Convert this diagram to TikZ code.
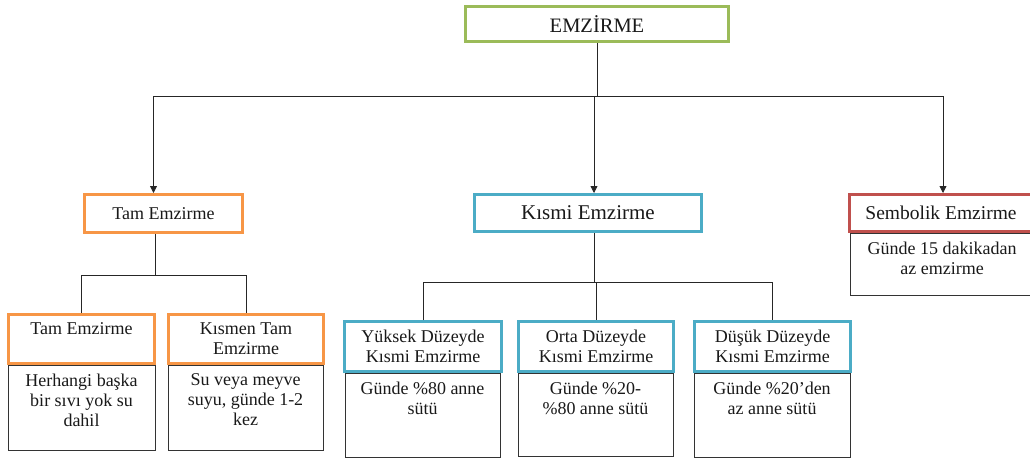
\documentclass[tikz,border=0pt]{standalone}
\usepackage{fontspec}
\setmainfont{Liberation Serif}
\usetikzlibrary{arrows.meta}

\definecolor{emgreen}{RGB}{155,187,89}
\definecolor{emorange}{RGB}{247,150,70}
\definecolor{emblue}{RGB}{75,172,198}
\definecolor{emred}{RGB}{192,80,77}

\begin{document}
\begin{tikzpicture}[x=1pt,y=-1pt,every node/.style={font=\fontsize{18}{20}\selectfont,text=black!90},
  cbox/.style={draw,line width=3pt,fill=white,align=center,inner sep=0pt},
  dbox/.style={draw=black!80,line width=0.8pt,inner sep=0pt},
  dtext/.style={anchor=north,align=center,inner sep=0pt,yshift=-9pt},
  big/.style={font=\fontsize{#1}{22}\selectfont},
  con/.style={draw=black!85,line width=0.8pt},
  arr/.style={con,-{Triangle[length=7pt,width=7pt]}}]
\useasboundingbox (0,0) rectangle (1030,461);
% description boxes (behind)
\node[dbox,minimum width=147pt,minimum height=85pt,label={[dtext]north:{Herhangi başka\\bir sıvı yok su\\dahil}}](tam1d) at (81.5,407.5){};
\node[dbox,minimum width=155pt,minimum height=85pt,label={[dtext]north:{Su veya meyve\\suyu, günde 1-2\\kez}}](tam2d) at (245.5,407.5){};
\node[dbox,minimum width=155pt,minimum height=84pt,label={[dtext]north:{Günde \%80 anne\\sütü}}](yukd) at (422.5,415){};
\node[dbox,minimum width=155pt,minimum height=83pt,label={[dtext]north:{Günde \%20-\\\%80 anne sütü}}](ortad) at (595.5,414.5){};
\node[dbox,minimum width=156pt,minimum height=84pt,label={[dtext]north:{Günde \%20’den\\az anne sütü}}](dusd) at (772,415){};
\node[dbox,minimum width=184pt,minimum height=62pt,label={[dtext]north:{Günde 15 dakikadan\\az emzirme}}](semd) at (942,264){};
% coloured boxes
\node[cbox,draw=emgreen,big=20.5,minimum width=263pt,minimum height=35pt](top) at (597,24){EMZİRME};
\node[cbox,draw=emorange,minimum width=158pt,minimum height=38pt](tam) at (163.5,213.5){Tam Emzirme};
\node[cbox,draw=emblue,big=21,minimum width=227pt,minimum height=37pt](kismi) at (588,213){Kısmi Emzirme};
\node[cbox,draw=emred,big=19.5,minimum width=183pt,minimum height=37pt](sem) at (941,213){Sembolik Emzirme};
\node[cbox,draw=emorange,minimum width=146pt,minimum height=49pt](tam1) at (81.5,339){Tam Emzirme\\\phantom{X}};
\node[cbox,draw=emorange,minimum width=155pt,minimum height=49pt](tam2) at (246,339){Kısmen Tam\\Emzirme};
\node[cbox,draw=emblue,minimum width=157pt,minimum height=50pt](yuk) at (423,346.5){Yüksek Düzeyde\\Kısmi Emzirme};
\node[cbox,draw=emblue,minimum width=155pt,minimum height=50pt](orta) at (596,346.5){Orta Düzeyde\\Kısmi Emzirme};
\node[cbox,draw=emblue,minimum width=156pt,minimum height=50pt](dus) at (772.5,346.5){Düşük Düzeyde\\Kısmi Emzirme};
% connectors
\draw[con](top.south)--++(0,53.5)coordinate(topj);
\draw[arr](topj)-|([xshift=-10pt]tam.north);
\draw[arr](topj)-|([xshift=6pt]kismi.north);
\draw[arr](topj)-|([xshift=2pt]sem.north);
\draw[con]([xshift=-8.5pt]tam.south)--++(0,41.5)coordinate(tamj);
\draw[con](tam1.north)|-(tamj)-|(tam2.north);
\draw[con]([xshift=6pt]kismi.south)--++(0,49.5)coordinate(kisj);
\draw[con](yuk.north)|-(kisj)-|(dus.north);
\draw[con](kisj)-|(orta.north);
\end{tikzpicture}
\end{document}
